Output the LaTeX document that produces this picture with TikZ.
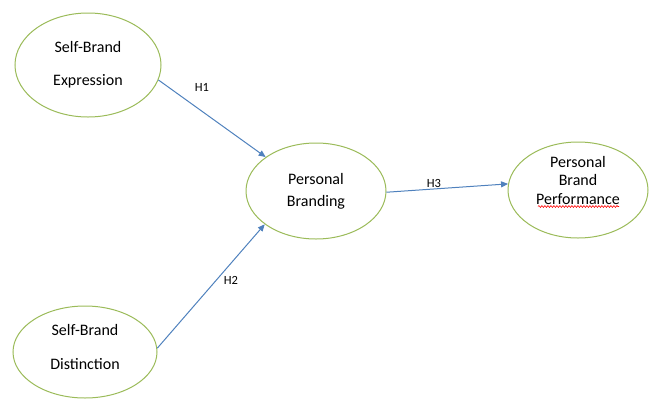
\documentclass[tikz,border=0pt]{standalone}
\usepackage{fontspec}
\setmainfont{Carlito}
\usetikzlibrary{shapes.geometric,arrows.meta,decorations.pathmorphing}
\definecolor{ringgreen}{HTML}{9BBB59}
\definecolor{arrowblue}{HTML}{4F81BD}
\newcommand{\liftlines}[2]{\raisebox{#1}[\height][\depth]{\begin{tabular}{@{}c@{}}#2\end{tabular}}}
\begin{document}
\begin{tikzpicture}[x=1pt,y=-1pt,
  construct/.style={ellipse,draw=ringgreen,line width=1pt,fill=white,inner sep=0pt,align=center,font=\fontsize{16}{19.2}\selectfont},
  path/.style={draw=arrowblue,line width=1pt,-{Triangle[length=7pt,width=6pt]}},
  hlabel/.style={font=\fontsize{12.5}{15}\selectfont}]
\useasboundingbox (0,0) rectangle (651,400);
\node[construct,minimum width=146pt,minimum height=104pt] (sbe) at (88,65) {Self-Brand\\[14pt]Expression};
\node[construct,minimum width=140pt,minimum height=96pt] (pb) at (316,191) {Personal\\[3pt]Branding};
\node[construct,minimum width=140pt,minimum height=96pt] (pbp) at (578,190) {\liftlines{8pt}{Personal\\[-1pt]Brand\\[-1pt]Performance}};
\node[construct,minimum width=144pt,minimum height=92pt] (sbd) at (85,352) {\liftlines{3pt}{Self-Brand\\[15pt]Distinction}};
\draw[path] (sbe.-12) -- (pb.146);
\draw[path] (sbd.3) -- (pb.-147);
\draw[path] (pb.-1) -- (pbp.175);
\node[hlabel] (h1) at (202,87) {H1};
\node[hlabel] (h2) at (231,280) {H2};
\node[hlabel] (h3) at (434,183) {H3};
\coordinate (wl) at (538,206.5);
\coordinate (wr) at (619,206.5);
\draw[red,line width=0.6pt,decorate,decoration={snake,amplitude=0.9pt,segment length=3pt}] (wl) -- (wr);
\end{tikzpicture}
\end{document}
